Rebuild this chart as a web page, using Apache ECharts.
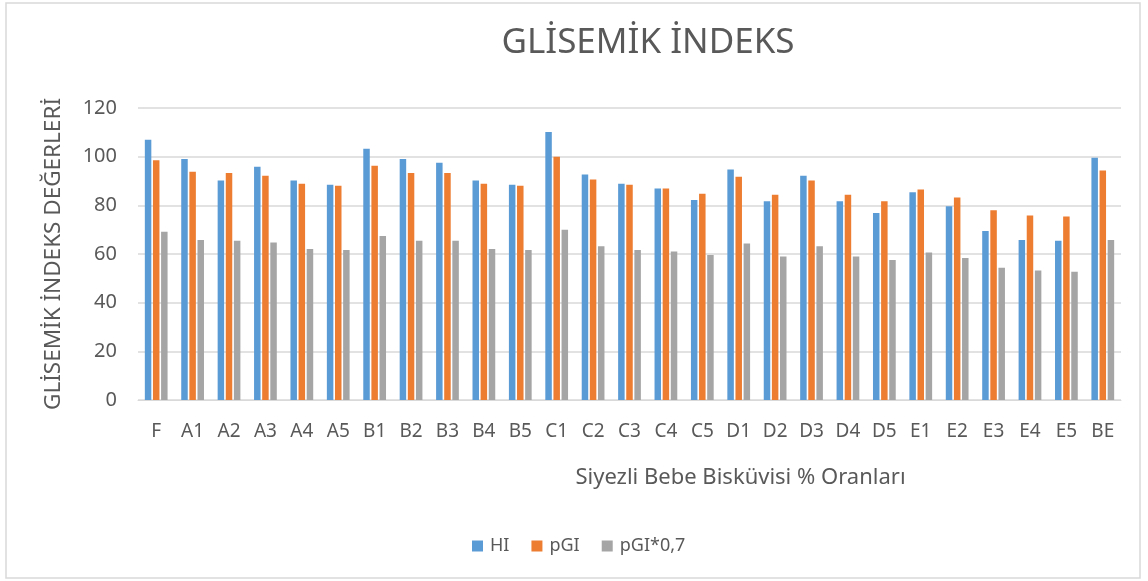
<!DOCTYPE html>
<html>
<head>
<meta charset="utf-8">
<script src="https://cdn.jsdelivr.net/npm/echarts@6/dist/echarts.min.js"></script>
<style>
html,body{margin:0;padding:0;background:#fff;}
#chart{width:1148px;height:581px;}
</style>
</head>
<body>
<div id="chart"></div>
<script>
var categories = ['F','A1','A2','A3','A4','A5','B1','B2','B3','B4','B5','C1','C2','C3','C4','C5','D1','D2','D3','D4','D5','E1','E2','E3','E4','E5','BE'];
var hiValues = [107.0,99.0,90.2,95.9,90.2,88.5,103.3,99.0,97.5,90.2,88.5,110.1,92.7,88.9,86.9,82.2,94.7,81.7,92.2,81.7,76.9,85.4,79.6,69.5,65.8,65.4,99.6];
var pgiValues = [98.5,93.8,93.3,92.2,88.9,88.0,96.3,93.3,93.3,88.9,88.0,100.0,90.6,88.5,86.9,84.8,91.7,84.3,90.2,84.3,81.7,86.5,83.2,78.0,75.8,75.4,94.3];
var pgi07Values = [69.1,65.8,65.4,64.7,62.1,61.6,67.4,65.4,65.4,62.1,61.6,70.0,63.2,61.6,61.0,59.6,64.3,59.0,63.2,59.0,57.5,60.6,58.4,54.3,53.2,52.7,65.8];
var seriesNames = ['HI','pGI','pGI*0,7'];
var yTicks = {min:0, max:120, interval:20};

var FONT = '"Noto Sans", sans-serif';
var TXT = '#595959';
var chart = echarts.init(document.getElementById('chart'), null, {renderer:'canvas'});
function bar(name, data, color){
  return {name:name, type:'bar', data:data, barWidth:6.5, barGap:'25%',
          itemStyle:{color:color}, emphasis:{disabled:true}};
}
chart.setOption({
  animation:false,
  title:{text:'GLİSEMİK İNDEKS', left:643, top:21, textAlign:'center',
         textStyle:{fontFamily:FONT, fontSize:35, fontWeight:'normal', color:TXT}},
  graphic:[{type:'rect', shape:{x:6, y:3, width:1134, height:575},
            style:{fill:'none', stroke:'#d9d9d9', lineWidth:1.5}, silent:true}],
  legend:{left:472, top:537, padding:0, itemWidth:11, itemHeight:11, itemGap:22,
          icon:'rect', textStyle:{fontFamily:FONT, fontSize:18, color:TXT, padding:[0,0,0,2]},
          data:seriesNames},
  grid:{left:138, right:27, top:108, bottom:181},
  xAxis:{type:'category', data:categories,
         axisLine:{lineStyle:{color:'#d9d9d9', width:1}}, axisTick:{show:false},
         axisLabel:{fontFamily:FONT, fontSize:19, color:TXT, margin:22},
         name:'Siyezli Bebe Bisküvisi % Oranları', nameLocation:'middle', nameGap:67,
         nameTextStyle:{fontFamily:FONT, fontSize:22, color:TXT, padding:[0,0,0,222]}},
  yAxis:{type:'value', min:yTicks.min, max:yTicks.max, interval:yTicks.interval,
         axisLine:{show:false}, axisTick:{show:false},
         splitLine:{lineStyle:{color:'#d9d9d9', width:1.5}},
         axisLabel:{fontFamily:FONT, fontSize:20, color:TXT, margin:21},
         name:'GLİSEMİK İNDEKS DEĞERLERİ', nameLocation:'middle', nameGap:73,
         nameTextStyle:{fontFamily:FONT, fontSize:22.5, color:TXT}},
  series:[bar(seriesNames[0], hiValues, '#5b9bd5'),
          bar(seriesNames[1], pgiValues, '#ed7d31'),
          bar(seriesNames[2], pgi07Values, '#a5a5a5')]
});
</script>
</body>
</html>
